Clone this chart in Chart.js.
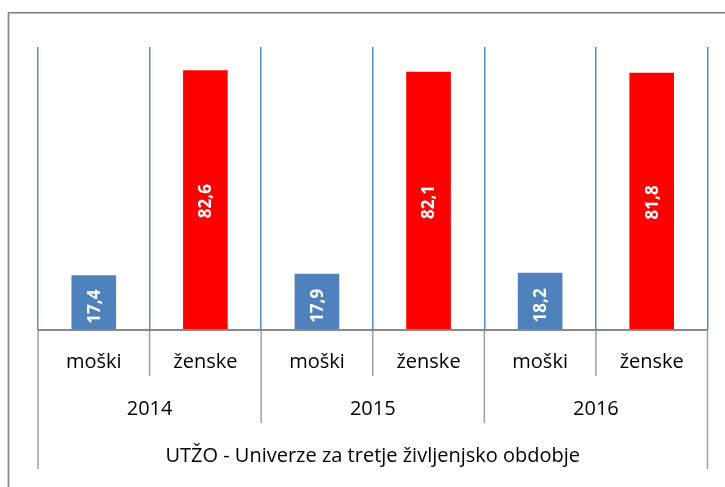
<!DOCTYPE html>
<html>
<head>
<meta charset="utf-8">
<script src="https://cdn.jsdelivr.net/npm/chart.js@4/dist/chart.umd.min.js"></script>
<style>
  html, body { margin: 0; padding: 0; background: #fff; }
  #wrap { position: relative; width: 725px; height: 487px; }
</style>
</head>
<body>
<div id="wrap"><canvas id="c"></canvas></div>
<script>
const years = ['2014', '2015', '2016'];
const genders = ['moški', 'ženske'];
const male = [17.4, 17.9, 18.2];
const female = [82.6, 82.1, 81.8];
const groupTitle = 'UTŽO - Univerze za tretje življenjsko obdobje';
const yMax = 90;

const labels = [];
const values = [];
const colors = [];
years.forEach((y, i) => {
  labels.push(genders[0]); values.push(male[i]); colors.push('#4F81BD');
  labels.push(genders[1]); values.push(female[i]); colors.push('#FF0000');
});

const FONT = '"Open Sans", "Liberation Sans", sans-serif';

const decor = {
  id: 'decor',
  beforeDraw(chart) {
    const ctx = chart.ctx;
    ctx.save();
    ctx.strokeStyle = '#878787';
    ctx.lineWidth = 1.75;
    ctx.strokeRect(8.5, 12.75, 1000, 1000);
    ctx.restore();
  },
  afterDatasetsDraw(chart) {
    const ctx = chart.ctx;
    const meta = chart.getDatasetMeta(0);
    ctx.save();
    ctx.fillStyle = '#FFFFFF';
    ctx.font = 'bold 17px ' + FONT;
    ctx.textAlign = 'center';
    ctx.textBaseline = 'middle';
    meta.data.forEach((bar, i) => {
      const yc = (bar.y + bar.base) / 2 + (i % 2 === 0 ? 4 : 1);
      ctx.save();
      ctx.translate(bar.x + 1, yc);
      ctx.rotate(-Math.PI / 2);
      ctx.fillText(values[i].toFixed(1).replace('.', ','), 0, 0);
      ctx.restore();
    });
    ctx.restore();
  },
  afterDraw(chart) {
    const ctx = chart.ctx;
    const xs = chart.scales.x;
    const area = chart.chartArea;
    const n = labels.length;
    const half = (xs.getPixelForValue(1) - xs.getPixelForValue(0)) / 2;
    const axisY = area.bottom;
    const row1 = axisY + 46, row2 = axisY + 93, row3 = axisY + 139;
    ctx.save();
    // separators
    ctx.strokeStyle = '#A0A0A0';
    ctx.lineWidth = 1.5;
    for (let i = 0; i <= n; i++) {
      const x = (i < n ? xs.getPixelForValue(i) - half : xs.getPixelForValue(n - 1) + half);
      let end = row1;
      if (i === 0 || i === n) end = row3;
      else if (i % 2 === 0) end = row2;
      ctx.beginPath();
      ctx.moveTo(x, axisY);
      ctx.lineTo(x, end);
      ctx.stroke();
    }
    // axis line
    ctx.strokeStyle = '#898989';
    ctx.lineWidth = 2;
    ctx.beginPath();
    ctx.moveTo(area.left, axisY);
    ctx.lineTo(area.right, axisY);
    ctx.stroke();
    // labels
    ctx.fillStyle = '#000000';
    ctx.font = '20px ' + FONT;
    ctx.textAlign = 'center';
    ctx.textBaseline = 'middle';
    labels.forEach((l, i) => {
      ctx.fillText(l, xs.getPixelForValue(i), axisY + 32);
    });
    years.forEach((y, i) => {
      const x = (xs.getPixelForValue(2 * i) + xs.getPixelForValue(2 * i + 1)) / 2;
      ctx.fillText(y, x, axisY + 79);
    });
    ctx.fillText(groupTitle, (area.left + area.right) / 2, axisY + 126);
    ctx.restore();
  }
};

new Chart(document.getElementById('c'), {
  type: 'bar',
  data: {
    labels: labels,
    datasets: [{
      data: values,
      backgroundColor: colors,
      borderWidth: 0,
      barPercentage: 0.4,
      categoryPercentage: 1.0
    }]
  },
  options: {
    responsive: true,
    maintainAspectRatio: false,
    animation: false,
    events: [],
    layout: { padding: { left: 38, right: 17.5, top: 47, bottom: 157 } },
    plugins: { legend: { display: false }, tooltip: { enabled: false } },
    scales: {
      x: {
        display: true,
        offset: true,
        grid: { display: true, offset: true, color: '#5A8AC6', lineWidth: 1.5, drawTicks: false },
        border: { display: false },
        ticks: { display: false }
      },
      y: {
        display: false,
        min: 0,
        max: yMax
      }
    }
  },
  plugins: [decor]
});
</script>
</body>
</html>
